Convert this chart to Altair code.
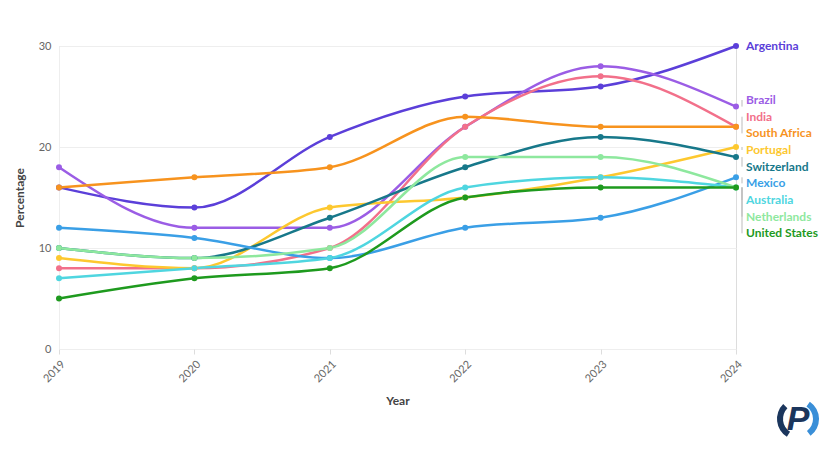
import altair as alt
import pandas as pd

years = [2019, 2020, 2021, 2022, 2023, 2024]
countries = ["Argentina", "Brazil", "India", "South Africa", "Portugal",
             "Switzerland", "Mexico", "Australia", "Netherlands", "United States"]
argentina = [16, 14, 21, 25, 26, 30]
brazil = [18, 12, 12, 22, 28, 24]
india = [8, 8, 10, 22, 27, 22]
south_africa = [16, 17, 18, 23, 22, 22]
portugal = [9, 8, 14, 15, 17, 20]
switzerland = [10, 9, 13, 18, 21, 19]
mexico = [12, 11, 9, 12, 13, 17]
australia = [7, 8, 9, 16, 17, 16]
netherlands = [10, 9, 10, 19, 19, 16]
united_states = [5, 7, 8, 15, 16, 16]
colors = ["#5b3fd9", "#9b5de5", "#f2708a", "#f7931e", "#fdc82f",
          "#17788a", "#3a9fe6", "#4fd6e0", "#8ee89e", "#1e9a1e"]

series = [argentina, brazil, india, south_africa, portugal,
          switzerland, mexico, australia, netherlands, united_states]

rows = []
for c, vals in zip(countries, series):
    for y, v in zip(years, vals):
        rows.append({"Year": y, "Percentage": v, "Country": c})
df = pd.DataFrame(rows)

# end labels: merge overlapping clusters, place each cluster evenly spaced
gap = 1.65
last = [(c, vals[-1]) for c, vals in zip(countries, series)]


def cluster_top(cl):
    if len(cl) == 1:
        return cl[0][1]
    offs = sorted(v + i * gap for i, (c, v) in enumerate(cl))
    return (offs[len(offs) // 2] + cl[0][1]) / 2


clusters = [[item] for item in last]
changed = True
while changed:
    changed = False
    for k in range(len(clusters) - 1):
        bottom = cluster_top(clusters[k]) - (len(clusters[k]) - 1) * gap
        if bottom - cluster_top(clusters[k + 1]) < gap - 1e-9:
            clusters[k] = clusters[k] + clusters.pop(k + 1)
            changed = True
            break

lab_rows = []
for cl in clusters:
    top = cluster_top(cl)
    for i, (c, v) in enumerate(cl):
        lab_rows.append({"Year": years[-1], "Percentage": v,
                         "LabelY": top - i * gap, "Country": c})
lab = pd.DataFrame(lab_rows)

FONT = "Lato"
color = alt.Color("Country:N", scale=alt.Scale(domain=countries, range=colors), legend=None)
x = alt.X("Year:Q", scale=alt.Scale(domain=[2019, 2024], nice=False),
          axis=alt.Axis(values=years, format="d", labelAngle=-45, labelColor="#666",
                        labelFont=FONT, labelFontSize=11, tickColor="#dddddd", tickSize=5,
                        domain=False, grid=False, title="Year",
                        titleFont=FONT, titleFontSize=12, titleColor="#444",
                        titleFontWeight="bold", titlePadding=12, labelPadding=4))
y = alt.Y("Percentage:Q", scale=alt.Scale(domain=[0, 30]),
          axis=alt.Axis(values=[0, 10, 20, 30], ticks=False, domain=True,
                        domainColor="#eeeeee",
                        labelColor="#666", labelFont=FONT, labelFontSize=11,
                        gridColor="#eeeeee", title="Percentage", titleFont=FONT,
                        titleFontSize=12, titleColor="#444", titleFontWeight="bold",
                        titlePadding=12, labelPadding=8))

base = alt.Chart(df)
lines = base.mark_line(interpolate="monotone", strokeWidth=2.5).encode(x=x, y=y, color=color)
points = base.mark_circle(size=36, opacity=1).encode(x=x, y=y, color=color)

leaders = alt.Chart(lab).mark_rule(color="#bbbbbb", strokeWidth=1, xOffset=6).encode(
    x="Year:Q", y="Percentage:Q", y2="LabelY:Q")
labels = alt.Chart(lab).mark_text(align="left", baseline="middle", dx=10, font=FONT,
                                  fontSize=12, fontWeight="bold").encode(
    x="Year:Q", y="LabelY:Q", text="Country:N", color=color)

# logo (decoration)
logo_df = pd.DataFrame({"k": [0]})
lx, ly = 739, 373
arc_navy = alt.Chart(logo_df).mark_arc(color="#1b365d", theta=3.7, theta2=5.5,
                                       radius=21, radius2=15).encode(
    x=alt.value(lx), y=alt.value(ly))
arc_blue = alt.Chart(logo_df).mark_arc(color="#3a8fd8", theta=0.6, theta2=2.5,
                                       radius=21, radius2=15).encode(
    x=alt.value(lx), y=alt.value(ly))
ptext = alt.Chart(logo_df).mark_text(text="P", font="Liberation Sans", fontSize=34,
                                     fontWeight="bold", fontStyle="italic",
                                     color="#1b365d", align="center",
                                     baseline="middle").encode(
    x=alt.value(lx), y=alt.value(ly + 1))

chart = alt.layer(lines, points, leaders, labels, arc_navy, arc_blue, ptext).properties(
    width=677, height=303,
    padding={"top": 32, "left": 5, "right": 0, "bottom": 5},
).configure_view(stroke=None).configure(background="white")

chart.save("out.html", embed_options={"renderer": "svg", "actions": False})
